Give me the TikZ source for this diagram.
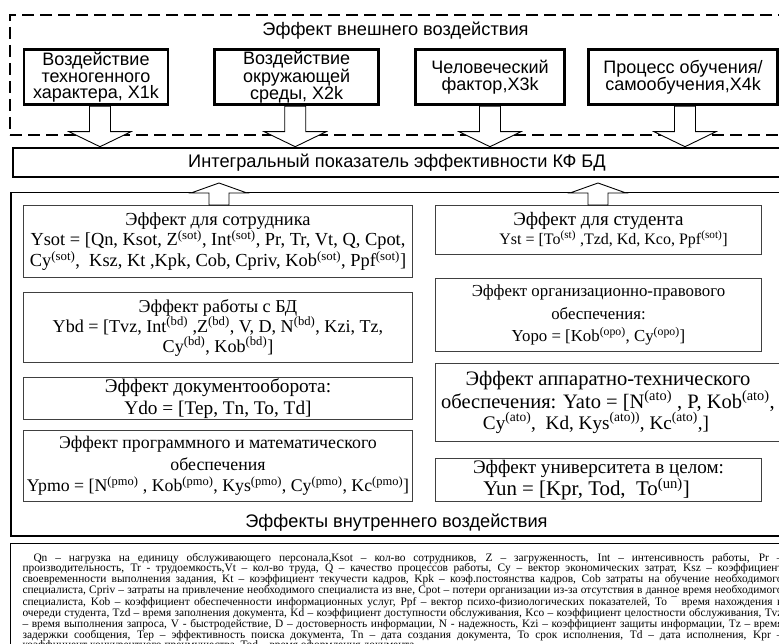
\documentclass[tikz,border=0pt]{standalone}
\usepackage{fontspec}
\setmainfont{Liberation Serif}
\newfontfamily\sansf{Liberation Sans}
\usetikzlibrary{calc}
\newcommand{\spx}[1]{\textsuperscript{#1}}
\newcommand{\fsz}[2]{{\fontsize{#1}{20}\selectfont #2}}
\newcommand{\blockdown}[3]{%
  \filldraw[blockarrow] let \p1=($(#1.south)+(#3,0)$), \p2=(#2.north) in
   (\x1-10.5pt,\y1) -- (\x1-10.5pt,\y2+15pt) -- (\x1-31pt,\y2+15pt) -- (\x1,\y2)
   -- (\x1+31pt,\y2+15pt) -- (\x1+10.5pt,\y2+15pt) -- (\x1+10.5pt,\y1) -- cycle;}
\newcommand{\blockup}[3]{%
  \filldraw[blockarrow] let \p1=($(#1.north)+(#3,0)$), \p2=(#2.south) in
   (\x1-10pt,\y1) -- (\x1-10pt,\y2-14.7pt) -- (\x1-28pt,\y2-14.7pt) -- (\x1,\y2-4.7pt)
   -- (\x1+28pt,\y2-14.7pt) -- (\x1+10pt,\y2-14.7pt) -- (\x1+10pt,\y1) -- cycle;}
\begin{document}
\begin{tikzpicture}[x=1pt,y=-1pt,
  topbox/.style={draw, line width=2.6pt, inner sep=0pt, align=center,
    font=\sansf\fontsize{18}{16.5}\selectfont, minimum height=55pt},
  intbox/.style={draw, line width=2.6pt, inner sep=0pt, align=center,
    font=\sansf\fontsize{18.2}{18}\selectfont},
  dashbox/.style={draw, dash pattern=on 12pt off 6pt, line width=1.3pt, inner sep=0pt},
  outerbox/.style={draw, line width=1.8pt, inner sep=0pt},
  innerbox/.style={draw=black!75, line width=1pt, inner sep=0pt, align=center},
  title/.style={inner sep=0pt, font=\sansf\fontsize{18.2}{18}\selectfont},
  blockarrow/.style={draw=black, fill=white, line width=0.9pt, line join=miter},
  legendbox/.style={draw, line width=1pt, inner xsep=12pt, inner ysep=10pt,
    align=justify, font=\fontsize{11.4}{10.8}\selectfont}
]
\useasboundingbox (0,0) rectangle (779,644);
\clip (0,0) rectangle (779,644);
\fill[white] (0,0) rectangle (779,644);

% external effect area
\node[dashbox, minimum width=771pt, minimum height=120pt] (ext) at (395.5,75) {};
\node[title] (exttitle) at (395.5,31) {Эффект внешнего воздействия};

\node[topbox, minimum width=144pt] (x1) at (96,77.3) {Воздействие\\техногенного\\характера, X1k};
\node[topbox, minimum width=164pt] (x2) at (296.7,77.3) {Воздействие\\окружающей\\среды, X2k};
\node[topbox, minimum width=149pt] (x3) at (490,77.3) {Человеческий\\фактор,X3k};
\node[topbox, minimum width=189pt] (x4) at (683,77.3) {Процесс обучения/\\самообучения,X4k};

\node[intbox, minimum width=768pt, minimum height=29pt] (integ) at (397,162.5)
  {Интегральный показатель эффективности КФ БД};

\blockdown{x1}{integ}{4}
\blockdown{x2}{integ}{-1.5}
\blockdown{x3}{integ}{0}
\blockdown{x4}{integ}{2}

% internal effect area
\node[outerbox, minimum width=771pt, minimum height=343.5pt] (intern) at (396.5,364.25) {};
\node[title] (interntitle) at (396.5,523) {Эффекты внутреннего воздействия};

\node[innerbox, minimum width=389pt, minimum height=72pt, font=\fontsize{18.4}{20.5}\selectfont] (ysot) at (218,241.5)
  {Эффект для сотрудника\\
   Ysot = [Qn, Ksot, Z\spx{(sot)}, Int\spx{(sot)}, Pr, Tr, Vt, Q, Cpot,\\
   Cy\spx{(sot)},\ \ Ksz, Kt ,Kpk, Cob, Cpriv, Kob\spx{(sot)}, Ppf\spx{(sot)}]};
\node[innerbox, minimum width=389pt, minimum height=70pt, font=\fontsize{18.1}{20}\selectfont] (ybd) at (218,327.5)
  {Эффект работы с БД\\
   Ybd = [Tvz, Int\spx{(bd)} ,Z\spx{(bd)}, V, D, N\spx{(bd)}, Kzi, Tz,\\
   Cy\spx{(bd)}, Kob\spx{(bd)}]};
\node[innerbox, minimum width=389pt, minimum height=42pt, font=\fontsize{19.3}{21.5}\selectfont] (ydo) at (218,398.5)
  {Эффект документооборота:\\ Ydo = [Tep, Tn, To, Td]};
\node[innerbox, minimum width=389pt, minimum height=71pt, font=\fontsize{17.8}{21.5}\selectfont] (ypmo) at (218,466)
  {Эффект программного и математического\\ обеспечения\\
   Ypmo = [N\spx{(pmo)} , Kob\spx{(pmo)}, Kys\spx{(pmo)}, Cy\spx{(pmo)}, Kc\spx{(pmo)}]};

\node[innerbox, minimum width=326pt, minimum height=49pt, font=\fontsize{19}{19.5}\selectfont] (yst) at (598.5,230)
  {Эффект для студента\\ \hspace*{30pt}\fsz{16}{Yst = [To\spx{(st)} ,Tzd, Kd, Kco, Ppf\spx{(sot)}]}};
\node[innerbox, minimum width=326pt, minimum height=73pt, font=\fontsize{16.8}{22.5}\selectfont] (yopo) at (598.5,315)
  {Эффект организационно-правового\\ обеспечения:\\
   Yopo = [Kob\spx{(opo)}, Cy\spx{(opo)}]};
\node[innerbox, minimum width=345pt, minimum height=78pt, font=\fontsize{20.5}{19.5}\selectfont] (yato) at (608,402.5)
  {Эффект аппаратно-технического\\
   обеспечения: Yato = [N\spx{(ato)} , P, Kob\spx{(ato)},\\
   \fsz{19.2}{Cy\spx{(ato)},\ \ Kd, Kys\spx{(ato))}, Kc\spx{(ato)},]}\hspace*{24pt}};
\node[innerbox, minimum width=326pt, minimum height=43pt, font=\fontsize{19.1}{19.5}\selectfont] (yun) at (598.5,480)
  {Эффект университета в целом:\\ \fsz{20.9}{Yun = [Kpr, Tod,\ \ To\spx{(un)}]}\hspace*{24pt}};

\blockup{ysot}{integ}{1}
\blockup{yst}{integ}{-0.5}

% legend
\node[legendbox, anchor=north west, text width=760pt] (legend) at (10,542.5)
{\hyphenpenalty=10000 \exhyphenpenalty=10000
\hspace*{11pt}Qn – нагрузка на единицу обслуживающего персонала,Ksot – кол-во сотрудников, Z – загруженность, Int – интенсивность работы, Pr –\linebreak
производительность, Tr - трудоемкость,Vt – кол-во труда, Q – качество процессов работы, Cy – вектор экономических затрат, Ksz – коэффициент\linebreak
своевременности выполнения задания, Kt – коэффициент текучести кадров, Kpk – коэф.постоянства кадров, Cob затраты на обучение необходимого\linebreak
специалиста, Cpriv – затраты на привлечение необходимого специалиста из вне, Cpot – потери организации из-за отсутствия в данное время необходимого\linebreak
специалиста, Kob – коэффициент обеспеченности информационных услуг, Ppf – вектор психо-физиологических показателей, To ¯ время нахождения в\linebreak
очереди студента, Tzd – время заполнения документа, Kd – коэффициент доступности обслуживания, Kco – коэффициент целостности обслуживания, Tvz\linebreak
– время выполнения запроса, V - быстродействие, D – достоверность информации, N - надежность, Kzi – коэффициент защиты информации, Tz – время\linebreak
задержки сообщения, Tep – эффективность поиска документа, Tn – дата создания документа, To срок исполнения, Td – дата исполнения, Kpr –\linebreak
коэффициент конкурентного преимущества, Tod – время оформления документа};
\end{tikzpicture}
\end{document}
